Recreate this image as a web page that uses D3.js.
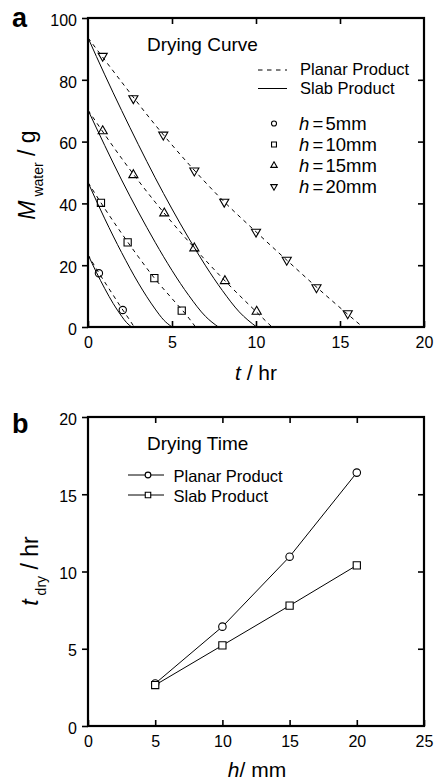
<!DOCTYPE html>
<html><head><meta charset="utf-8">
<script src="https://cdn.jsdelivr.net/npm/d3@7"></script>
<style>
body{margin:0;background:#fff;}
svg{display:block;font-family:"Liberation Sans",Arial,sans-serif;}
</style></head>
<body><svg id="chart" width="438" height="780"></svg>
<script>
// ---------- Panel a: drying curves ----------
const xTicksA = [0, 5, 10, 15, 20];
const yTicksA = [0, 20, 40, 60, 80, 100];
const heightLabels = ["5mm", "10mm", "15mm", "20mm"];
const markerShapes = ["circle", "square", "triangle", "invtriangle"];

// Planar product (dashed) model curves
const planarT_h5  = [0, 0.5, 1, 1.5, 2, 2.5, 2.75];
const planarM_h5  = [23.4, 18.8, 14.5, 10.3, 6.1, 2.1, 0];
const planarT_h10 = [0, 1, 2, 3, 4, 5, 6, 6.4];
const planarM_h10 = [46.8, 38.3, 30.3, 22.7, 15.5, 9.2, 2.9, 0];
const planarT_h15 = [0, 2, 4, 6, 8, 10, 10.95];
const planarM_h15 = [70.2, 54.6, 40.4, 27.6, 15.8, 5.0, 0];
const planarT_h20 = [0, 2, 4, 6, 8, 10, 12, 14, 16.35];
const planarM_h20 = [93.6, 79.3, 65.4, 52.7, 41.1, 30.8, 20.8, 11.0, 0];

// Slab product (solid) model curves
const slabT_h5  = [0, 0.5, 1, 1.5, 2, 2.3, 2.6];
const slabM_h5  = [23.4, 17.7, 12.4, 7.6, 3.5, 1.4, 0];
const slabT_h10 = [0, 1, 2, 3, 4, 4.5, 5.0];
const slabM_h10 = [46.8, 35.0, 24.1, 14.2, 5.8, 2.3, 0];
const slabT_h15 = [0, 1, 2, 3, 4, 5, 6, 7, 7.76];
const slabM_h15 = [70.2, 58.7, 47.6, 37.2, 27.4, 18.3, 10.2, 3.4, 0];
const slabT_h20 = [0, 1, 2, 3, 4, 5, 6, 7, 8, 9, 10.04];
const slabM_h20 = [93.6, 81.6, 70.1, 59.0, 48.3, 38.2, 28.7, 19.8, 11.8, 4.9, 0];

// Measured points (markers)
const measT_h5  = [0.65, 2.07];
const measM_h5  = [17.4, 5.5];
const measT_h10 = [0.77, 2.36, 3.95, 5.58];
const measM_h10 = [40.2, 27.4, 15.8, 5.3];
const measT_h15 = [0.875, 2.70, 4.54, 6.33, 8.15, 10.04];
const measM_h15 = [63.4, 49.2, 36.8, 25.5, 14.9, 5.0];
const measT_h20 = [0.875, 2.70, 4.48, 6.33, 8.11, 10.0, 11.83, 13.6, 15.46];
const measM_h20 = [87.7, 74.0, 62.2, 50.6, 40.5, 30.8, 21.7, 12.8, 4.4];

// ---------- Panel b: drying time ----------
const xTicksB = [0, 5, 10, 15, 20, 25];
const yTicksB = [0, 5, 10, 15, 20];
const thickness = [5, 10, 15, 20];
const planarTime = [2.75, 6.43, 10.96, 16.4];
const slabTime = [2.65, 5.22, 7.79, 10.4];

const svg = d3.select("#chart");
const zip = (a, b) => a.map((v, i) => [v, b[i]]);

function symbolPath(shape, size) {
  if (shape === "circle") return d3.symbol(d3.symbolCircle, size)();
  if (shape === "square") return d3.symbol(d3.symbolSquare, size)();
  return d3.symbol(d3.symbolTriangle, size)();
}
function drawMarker(g, shape, x, y, size, fill) {
  const rot = shape === "invtriangle" ? " rotate(180)" : "";
  g.append("path").attr("d", symbolPath(shape, size))
    .attr("transform", `translate(${x},${y})${rot}`)
    .attr("fill", fill).attr("stroke", "#000").attr("stroke-width", 1.1);
}

function frameAndAxes(g, x, y, xTicks, yTicks, xInner, yInner) {
  const [x0, x1] = x.range(), [y0, y1] = y.range();
  // bottom axis with labels, ticks inward
  const bottom = g.append("g").attr("transform", `translate(0,${y0})`)
    .call(d3.axisBottom(x).tickValues(xTicks).tickSize(-6).tickSizeOuter(0).tickPadding(10).tickFormat(d3.format("d")));
  // top axis ticks inward
  const top = g.append("g").attr("transform", `translate(0,${y1})`)
    .call(d3.axisTop(x).tickValues(xInner).tickSize(-6).tickSizeOuter(0).tickFormat(""));
  // left axis, ticks outward
  const left = g.append("g").attr("transform", `translate(${x0},0)`)
    .call(d3.axisLeft(y).tickValues(yTicks).tickSize(6).tickSizeOuter(0).tickPadding(5).tickFormat(d3.format("d")));
  // right axis, ticks inward
  const right = g.append("g").attr("transform", `translate(${x1},0)`)
    .call(d3.axisRight(y).tickValues(yInner).tickSize(-6).tickSizeOuter(0).tickFormat(""));
  [bottom, top, left, right].forEach(a => {
    a.select(".domain").remove();
    a.selectAll(".tick line").attr("stroke", "#000").attr("stroke-width", 1.6);
    a.selectAll("text").attr("font-size", 16).attr("fill", "#000")
      .attr("font-family", "'Liberation Sans', Arial, sans-serif");
  });
  left.selectAll("text").attr("dy", "0.45em");
  g.append("rect").attr("x", x0).attr("y", y1).attr("width", x1 - x0).attr("height", y0 - y1)
    .attr("fill", "none").attr("stroke", "#000").attr("stroke-width", 2.2);
}

// ===== Panel a =====
const xA = d3.scaleLinear().domain([0, 20]).range([88, 424]);
const yA = d3.scaleLinear().domain([0, 100]).range([327, 18]);
const gA = svg.append("g");

const lineA = d3.line().x(d => xA(d[0])).y(d => yA(d[1])).curve(d3.curveMonotoneX);
const planarSets = [zip(planarT_h5, planarM_h5), zip(planarT_h10, planarM_h10), zip(planarT_h15, planarM_h15), zip(planarT_h20, planarM_h20)];
const slabSets = [zip(slabT_h5, slabM_h5), zip(slabT_h10, slabM_h10), zip(slabT_h15, slabM_h15), zip(slabT_h20, slabM_h20)];
const measSets = [zip(measT_h5, measM_h5), zip(measT_h10, measM_h10), zip(measT_h15, measM_h15), zip(measT_h20, measM_h20)];

planarSets.forEach(s => gA.append("path").attr("d", lineA(s)).attr("fill", "none")
  .attr("stroke", "#000").attr("stroke-width", 1).attr("stroke-dasharray", "4,4"));
slabSets.forEach(s => gA.append("path").attr("d", lineA(s)).attr("fill", "none")
  .attr("stroke", "#000").attr("stroke-width", 1));
const markerSizes = {circle: 42, square: 52, triangle: 36, invtriangle: 36};
measSets.forEach((s, i) => s.forEach(d =>
  drawMarker(gA, markerShapes[i], xA(d[0]), yA(d[1]), markerSizes[markerShapes[i]], "none")));

frameAndAxes(gA, xA, yA, xTicksA, yTicksA, [5, 10, 15], [20, 40, 60, 80]);

// panel letter
svg.append("text").attr("x", 12).attr("y", 27).attr("font-size", 27).attr("font-weight", "bold").text("a");
// title
gA.append("text").attr("x", 147).attr("y", 51).attr("font-size", 19).text("Drying Curve");
// line legend
const legA = gA.append("g");
[["Planar Product", "4,4", 70, 74.5], ["Slab Product", null, 88.5, 94]].forEach(([lab, dash, ly, ty]) => {
  const l = legA.append("line").attr("x1", 258).attr("x2", 287).attr("y1", ly).attr("y2", ly)
    .attr("stroke", "#000").attr("stroke-width", 1);
  if (dash) l.attr("stroke-dasharray", "4.5,4.5");
  legA.append("text").attr("x", 300).attr("y", ty).attr("font-size", 16.5).text(lab);
});
const legSizes = {circle: 20, square: 24, triangle: 18, invtriangle: 18};
heightLabels.forEach((lab, i) => {
  const cy = 123.5 + i * 21;
  drawMarker(legA, markerShapes[i], 274, cy, legSizes[markerShapes[i]], "none");
  const t = legA.append("text").attr("x", 299).attr("y", cy + 6).attr("font-size", 18.5);
  t.append("tspan").attr("font-style", "italic").text("h");
  t.append("tspan").attr("x", 312.5).text("=");
  t.append("tspan").attr("x", 325.5).text(lab);
});

// axis labels
const xlabA = gA.append("text").attr("x", 256).attr("y", 380).attr("text-anchor", "middle").attr("font-size", 21);
xlabA.append("tspan").attr("font-style", "italic").text("t");
xlabA.append("tspan").text(" / hr");
const ylabA = gA.append("text").attr("transform", "translate(35,175) rotate(-90)").attr("text-anchor", "middle").attr("font-size", 23);
ylabA.append("tspan").attr("font-style", "italic").text("M");
ylabA.append("tspan").attr("font-size", 14).attr("dy", 8).text(" water");
ylabA.append("tspan").attr("dy", -8).text(" / g");

// ===== Panel b =====
const xB = d3.scaleLinear().domain([0, 25]).range([88, 424]);
const yB = d3.scaleLinear().domain([0, 20]).range([726, 417]);
const gB = svg.append("g");
const lineB = d3.line().x(d => xB(d[0])).y(d => yB(d[1]));
gB.append("path").attr("d", lineB(zip(thickness, planarTime))).attr("fill", "none").attr("stroke", "#000").attr("stroke-width", 1);
gB.append("path").attr("d", lineB(zip(thickness, slabTime))).attr("fill", "none").attr("stroke", "#000").attr("stroke-width", 1);
zip(thickness, planarTime).forEach(d => drawMarker(gB, "circle", xB(d[0]), yB(d[1]), 44, "#fff"));
zip(thickness, slabTime).forEach(d => drawMarker(gB, "square", xB(d[0]), yB(d[1]), 52, "#fff"));

frameAndAxes(gB, xB, yB, xTicksB, yTicksB, [5, 10, 15, 20], [5, 10, 15]);

svg.append("text").attr("x", 12).attr("y", 433).attr("font-size", 27).attr("font-weight", "bold").text("b");
gB.append("text").attr("x", 147).attr("y", 450).attr("font-size", 19).text("Drying Time");
[["Planar Product", "circle", 475], ["Slab Product", "square", 495]].forEach(([lab, shape, cy]) => {
  gB.append("line").attr("x1", 128).attr("x2", 164).attr("y1", cy).attr("y2", cy).attr("stroke", "#000").attr("stroke-width", 1);
  drawMarker(gB, shape, 148, cy, shape === "circle" ? 26 : 30, "#fff");
  gB.append("text").attr("x", 173.5).attr("y", cy + 6.5).attr("font-size", 16.5).text(lab);
});
const xlabB = gB.append("text").attr("x", 257).attr("y", 777).attr("text-anchor", "middle").attr("font-size", 21);
xlabB.append("tspan").attr("font-style", "italic").text("h");
xlabB.append("tspan").text("/ mm");
const ylabB = gB.append("text").attr("transform", "translate(38,571) rotate(-90)").attr("text-anchor", "middle").attr("font-size", 23);
ylabB.append("tspan").attr("font-style", "italic").text("t");
ylabB.append("tspan").attr("font-size", 14).attr("dy", 8).text(" dry");
ylabB.append("tspan").attr("dy", -8).text(" / hr");
</script></body></html>
